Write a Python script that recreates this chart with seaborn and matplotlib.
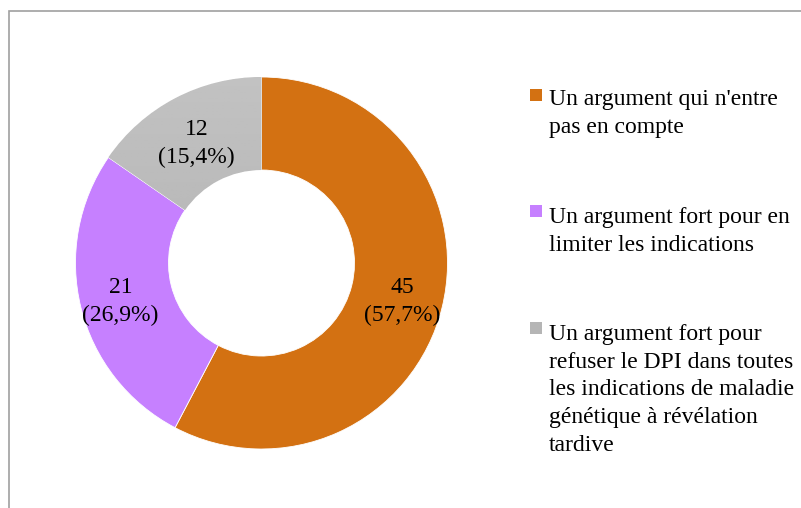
import numpy as np
import matplotlib
matplotlib.use("Agg")
import matplotlib.pyplot as plt
import seaborn as sns
from matplotlib.patches import Rectangle

# data
categories = [
    "Un argument qui n'entre\npas en compte",
    "Un argument fort pour en\nlimiter les indications",
    "Un argument fort pour\nrefuser le DPI dans toutes\nles indications de maladie\ngénétique à révélation\ntardive",
]
counts = [45, 21, 12]
percent_labels = ["57,7%", "26,9%", "15,4%"]
colors = ["#D37112", "#C680FF", "#B5B5B5"]

sns.set_theme(style="white")
plt.rcParams["font.family"] = ["Liberation Serif", "DejaVu Serif"]

W, H = 801, 508
fig = plt.figure(figsize=(W / 100, H / 100), dpi=100)

# outer frame (only left/top visible in the original)
fig.patches.append(Rectangle((9 / W, -0.1), 1.2, (H - 11) / H + 0.1,
                             transform=fig.transFigure, fill=False,
                             edgecolor="#a0a0a0", linewidth=1.2))

cx, cy, r = 261.5, 263, 186
ax = fig.add_axes([(cx - r) / W, (H - cy - r) / H, 2 * r / W, 2 * r / H])
wedges, _ = ax.pie(counts, colors=colors, startangle=90, counterclock=False,
                   radius=1, wedgeprops=dict(width=0.5, edgecolor="white", linewidth=0.6))
ax.set_xlim(-1, 1)
ax.set_ylim(-1, 1)
ax.set_aspect("equal")
ax.axis("off")

# light vertical gradient on the grey slice
grad = np.linspace(0.76, 0.67, 256).reshape(-1, 1)
im = ax.imshow(grad, cmap="gray", vmin=0, vmax=1, extent=[-1, 1, -1, 1],
               origin="upper", aspect="auto", zorder=wedges[2].get_zorder() + 0.1)
im.set_clip_path(wedges[2])

offsets = [(0.03, 0.0), (-0.03, 0.0), (0.0, 0.01)]
for w, n, p, (dx, dy) in zip(wedges, counts, percent_labels, offsets):
    ang = np.deg2rad((w.theta1 + w.theta2) / 2)
    ax.text(0.75 * np.cos(ang) + dx, 0.75 * np.sin(ang) - 0.03 + dy, f"{n}\n({p})",
            ha="center", va="center", fontsize=17, color="black",
            linespacing=1.42, zorder=5)

# legend
marker_tops = [89, 205, 322]
text_tops = [90, 208, 325]
for lab, col, mt, tt in zip(categories, colors, marker_tops, text_tops):
    fig.patches.append(Rectangle((529.5 / W, (H - mt - 12) / H), 12 / W, 12 / H,
                                 transform=fig.transFigure, facecolor=col,
                                 edgecolor="none"))
    fig.text(549 / W, (H - tt + 1) / H, lab, ha="left", va="top", fontsize=17,
             color="black", linespacing=1.42)

fig.savefig("out.png", dpi=100)
